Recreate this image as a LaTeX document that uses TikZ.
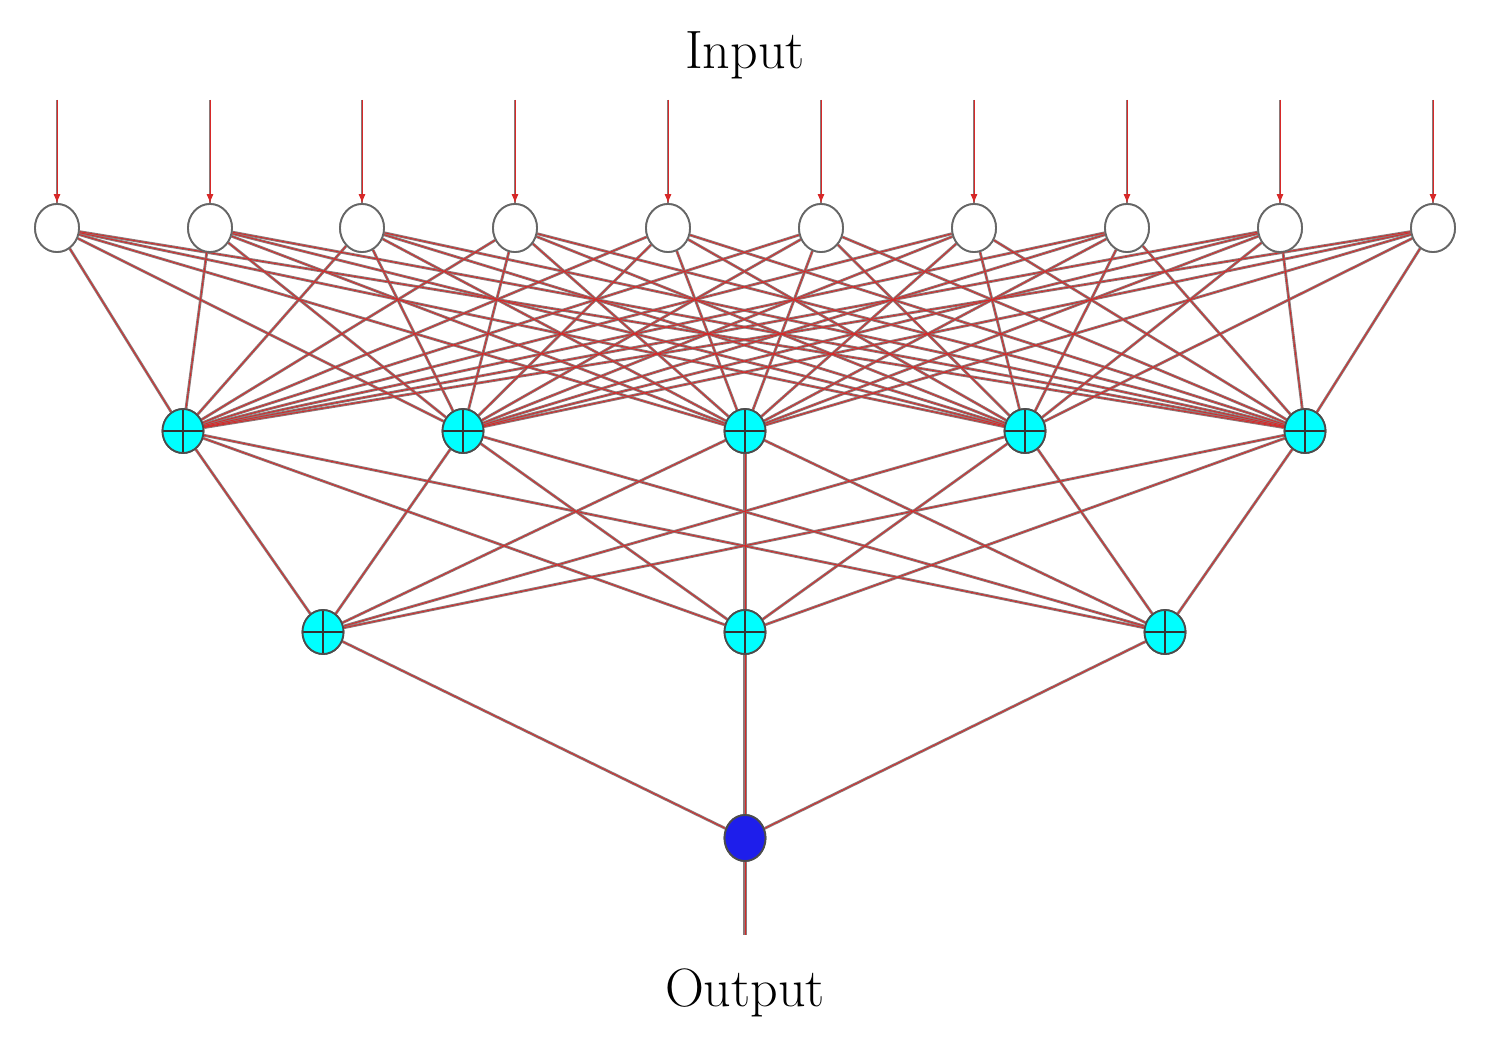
\documentclass[tikz,border=0pt]{standalone}
\usetikzlibrary{arrows.meta,shapes.geometric}
\definecolor{cy}{RGB}{0,255,255}
\definecolor{bl}{RGB}{30,30,235}
\definecolor{lg}{RGB}{140,120,120}
\definecolor{lr}{RGB}{215,40,40}
\begin{document}
\begin{tikzpicture}[x=1pt,y=-1pt,
  inp/.style={ellipse,draw=gray!80!black,line width=1.8pt,fill=white,minimum width=44pt,minimum height=48pt,inner sep=0pt},
  hid/.style={ellipse,draw=gray!60!black,line width=1.8pt,fill=cy,minimum width=41pt,minimum height=44pt,inner sep=0pt,path picture={\draw[black!80,line width=1.5pt] (path picture bounding box.north) -- (path picture bounding box.south) (path picture bounding box.west) -- (path picture bounding box.east);}},
  outn/.style={ellipse,draw=gray!60!black,line width=1.8pt,fill=bl,minimum width=41pt,minimum height=46pt,inner sep=0pt},
  conn/.style={draw=lg,line width=2.8pt},
  core/.style={draw=lr,line width=0.8pt},
  txt/.style={font=\fontsize{54}{60}\selectfont}]
\useasboundingbox (0,0) rectangle (1488,1062);
\node[txt] (lin) at (745,55) {Input};
\node[txt] (lout) at (745,993) {Output};
\foreach \i/\x in {1/57,2/210,3/362,4/515,5/668,6/821,7/974,8/1127,9/1280,10/1433} {
  \coordinate (t\i) at (\x,100);
  \node[inp] (i\i) at (\x,228) {};
}
\foreach \j/\x in {1/183,2/463,3/745,4/1025,5/1305} { \node[hid] (h\j) at (\x,431) {}; }
\foreach \k/\x in {1/323,2/745,3/1165} { \node[hid] (g\k) at (\x,632) {}; }
\node[outn] (o) at (745,838) {};
\coordinate (oe) at (745,935);
\foreach \i in {1,...,10} {
  \foreach \j in {1,...,5} { \path[conn] (i\i) -- (h\j); }
}
\foreach \j in {1,...,5} {
  \foreach \k in {1,2,3} { \path[conn] (h\j) -- (g\k); }
}
\foreach \k in {1,2,3} { \path[conn] (g\k) -- (o); }
\path[conn,line width=4pt] (g2) -- (o);
\path[conn,line width=4pt] (h3) -- (g2);
\path[conn,line width=4pt] (o) -- (oe);
\foreach \i in {1,...,10} { \path[conn] (t\i) -- (i\i.north); }
\foreach \i in {1,...,10} {
  \foreach \j in {1,...,5} { \path[core] (i\i) -- (h\j); }
}
\foreach \j in {1,...,5} {
  \foreach \k in {1,2,3} { \path[core] (h\j) -- (g\k); }
}
\foreach \k in {1,2,3} { \path[core] (g\k) -- (o); }
\path[core] (o) -- (oe);
\foreach \i in {1,...,10} {
  \path[core,-{Latex[length=9pt,width=7pt]}] (t\i) -- (i\i.north);
}
\foreach \i in {1,...,10} { \node[inp] at (i\i) {}; }
\foreach \j in {1,...,5} { \node[hid] at (h\j) {}; }
\foreach \k in {1,2,3} { \node[hid] at (g\k) {}; }
\node[outn] at (o) {};
\end{tikzpicture}
\end{document}
